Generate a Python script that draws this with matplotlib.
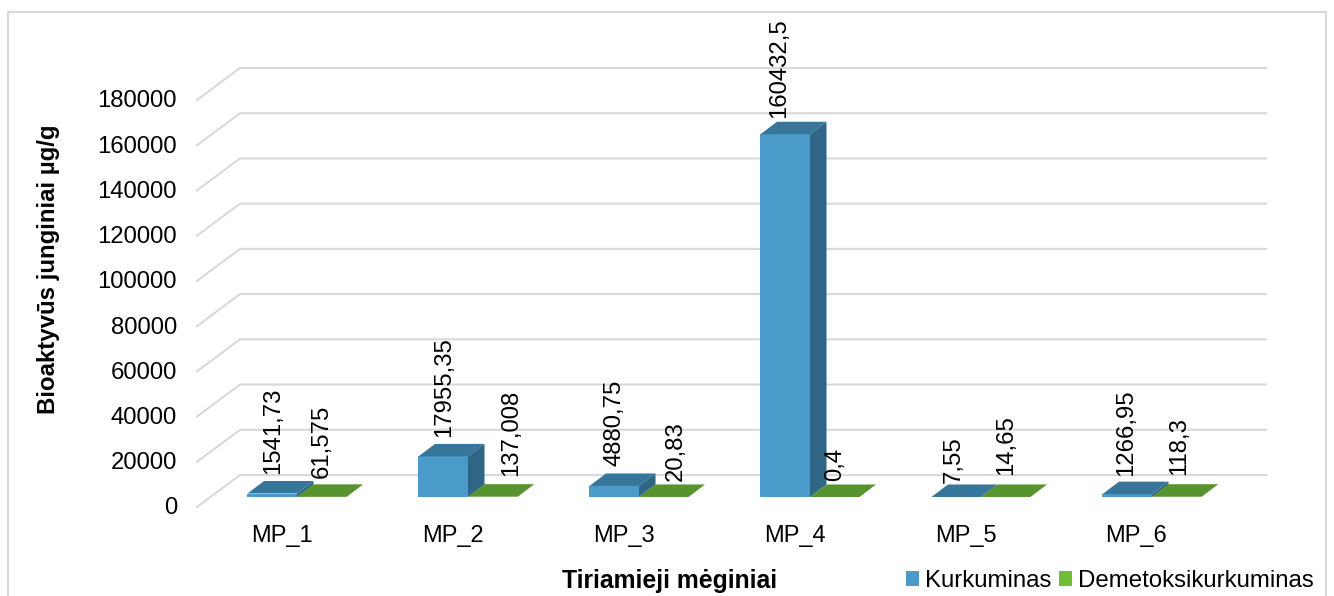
import matplotlib
matplotlib.use("Agg")
import matplotlib.pyplot as plt
from matplotlib.patches import Patch, Polygon, Rectangle
from matplotlib.transforms import Affine2D

plt.rcParams['font.family'] = ['Liberation Sans', 'DejaVu Sans']

categories = ["MP_1", "MP_2", "MP_3", "MP_4", "MP_5", "MP_6"]
kurkuminas = [1541.73, 17955.35, 4880.75, 160432.5, 7.55, 1266.95]
demetoksi = [61.575, 137.008, 20.83, 0.4, 14.65, 118.3]
kurk_labels = ["1541,73", "17955,35", "4880,75", "160432,5", "7,55", "1266,95"]
deme_labels = ["61,575", "137,008", "20,83", "0,4", "14,65", "118,3"]
y_ticks = [0, 20000, 40000, 60000, 80000, 100000, 120000, 140000, 160000, 180000]
series_names = ["Kurkuminas", "Demetoksikurkuminas"]

W, H = 1334, 596
L, R, T, B = 197, 1223, 100, 507
fig = plt.figure(figsize=(W / 100, H / 100), dpi=100, facecolor="white")
ax = fig.add_axes([L / W, 1 - B / H, (R - L) / W, (B - T) / H])
ax.set_xlim(0, 6)
ax.set_ylim(0, 180000)
for s in ax.spines.values():
    s.set_visible(False)
ax.patch.set_visible(False)

px_x = 6 / (R - L)
px_y = 180000 / (B - T)
GRID = "#D9D9D9"

fig.add_artist(Rectangle((8 / W, -0.05), (1326 - 8) / W, 1.05 - 12 / H,
                         transform=fig.transFigure, fill=False,
                         edgecolor=GRID, linewidth=1.5))

# receding gridlines
wall_dx, wall_dy = 43 * px_x, 32 * px_y
for v in y_ticks:
    ax.plot([0, wall_dx, 6 + wall_dx], [v, v + wall_dy, v + wall_dy],
            color=GRID, lw=1.5, clip_on=False, zorder=1, solid_joinstyle="miter")

# 3D bars
bar_w = 49.5 * px_x
base_dx, base_dy = 14.5 * px_x, 10 * px_y
depth_dx, depth_dy = 16.5 * px_x, 12.5 * px_y


def bar3d(x0, v, front, top, side, z):
    x0 += base_dx
    x1 = x0 + bar_w
    y0 = base_dy
    y1 = v + base_dy
    ax.bar(x0, v, width=bar_w, bottom=y0, align="edge", color=front,
           zorder=z, clip_on=False, linewidth=0)
    ax.add_patch(Polygon([(x1, y0), (x1 + depth_dx, y0 + depth_dy),
                          (x1 + depth_dx, y1 + depth_dy), (x1, y1)],
                         facecolor=side, edgecolor="none", zorder=z, clip_on=False))
    ax.add_patch(Polygon([(x0, y1), (x1, y1), (x1 + depth_dx, y1 + depth_dy),
                          (x0 + depth_dx, y1 + depth_dy)],
                         facecolor=top, edgecolor="none", zorder=z, clip_on=False))


# label nudges in pixels, relative to the bar's centre above its rear top edge
kurk_nudge = [(1, 7), (1, 7), (0, 7), (-6, 4), (-2, 1), (-1, 6)]
deme_nudge = [(0, 6), (18, 8), (12, 3), (0, 3), (0, 9), (2, 9)]

for i in range(6):
    x = float(i) + 0.5 - bar_w
    bar3d(x, kurkuminas[i], "#4A9BC9", "#38759A", "#2F6585", 3 + i)
    bar3d(x + bar_w, demetoksi[i], "#6FBE35", "#57932F", "#4A7F28", 3 + i)
    for xx, val, lab, nd in ((x, kurkuminas[i], kurk_labels[i], kurk_nudge[i]),
                             (x + bar_w, demetoksi[i], deme_labels[i], deme_nudge[i])):
        ax.annotate(lab, (xx + base_dx + bar_w / 2, val + base_dy + depth_dy),
                    xytext=nd, textcoords="offset pixels", rotation=90,
                    ha="center", va="bottom", fontsize=17.2, color="black",
                    zorder=20, annotation_clip=False)

ax.set_yticks(y_ticks)
ax.set_yticklabels([str(v) for v in y_ticks], fontsize=17.2)
ax.set_xticks([i + 0.5 for i in range(6)])
ax.set_xticklabels(categories, fontsize=17)
ax.tick_params(axis="y", length=0, pad=14.4)
ax.tick_params(axis="x", length=0, pad=12.7)
for lab in ax.get_yticklabels():
    lab.set_transform(lab.get_transform() + Affine2D().translate(0, 1))
for lab in ax.get_xticklabels():
    lab.set_transform(lab.get_transform() + Affine2D().translate(-1, 0))

ax.set_xlabel("Tiriamieji mėginiai", fontsize=17.8, fontweight="bold", va="center")
ax.xaxis.set_label_coords((670 - L) / (R - L), (B - 581) / (B - T))
ax.set_ylabel("Bioaktyvūs junginiai µg/g", fontsize=17.25, fontweight="bold", va="center")
ax.yaxis.set_label_coords((48 - L) / (R - L), (B - 269) / (B - T))

handles = [Patch(facecolor="#4A9BC9", edgecolor="none"),
           Patch(facecolor="#6FBE35", edgecolor="none")]
fig.legend(handles, series_names, loc="lower right", ncol=2, frameon=False,
           bbox_to_anchor=(1314 / W, 1 - 592 / H), fontsize=17.3,
           handlelength=0.54, handleheight=0.54, handletextpad=0.25,
           columnspacing=0.33, borderpad=0, borderaxespad=0)

fig.savefig("out.png", dpi=100, facecolor="white")
